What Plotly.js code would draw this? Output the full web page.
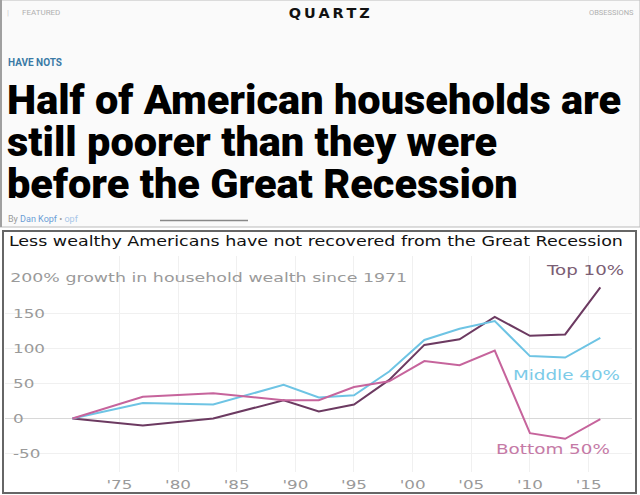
<!DOCTYPE html>
<html>
<head>
<meta charset="utf-8">
<script src="https://cdn.plot.ly/plotly-3.0.1.min.js"></script>
<style>
html,body{margin:0;padding:0;background:#fff;}
#chart{width:640px;height:495px;}
</style>
</head>
<body>
<div id="chart"></div>
<script>
// ---- data ----
const years = [1971, 1977, 1983, 1989, 1992, 1995, 1998, 2001, 2004, 2007, 2010, 2013, 2016];
const top10 = [0, -10, 0, 26, 10, 20, 55, 105, 113, 145, 118, 120, 187];
const middle40 = [0, 22, 20, 48, 30, 33, 67, 112, 128, 139, 89, 87, 115];
const bottom50 = [0, 31, 36, 26, 26, 45, 53, 82, 76, 97, -21, -29, -1];
const seriesNames = ["Top 10%", "Middle 40%", "Bottom 50%"];
const xTickVals = [1975, 1980, 1985, 1990, 1995, 2000, 2005, 2010, 2015];
const xTickText = ["'75", "'80", "'85", "'90", "'95", "'00", "'05", "'10", "'15"];
const yTickVals = [-50, 0, 50, 100, 150];
const yTickText = ["-50", "0", "50", "100", "150"];
const yAxisTitle = "200% growth in household wealth since 1971";
const headlineLines = ["Half of American households are", "still poorer than they were", "before the Great Recession"];
const chartTitle = "Less wealthy Americans have not recovered from the Great Recession";

// ---- helpers (pixel -> paper) ----
const W = 640, H = 495;
const px = x => x / W;
const py = y => 1 - y / H;

const colors = ["#6c3a61", "#6ec4e4", "#c6649c"];
const labelColors = ["#7b5e74", "#7ccbe8", "#c57aa6"];
const chartFont = "DejaVu Sans, sans-serif";
const tickGray = "#9a9a9a";
const HEAD_SIZE = 41.5, HEAD_PITCH = 42, HEAD_FIRST_BASELINE = 114;

const traces = [top10, middle40, bottom50].map((vals, i) => ({
  type: "scatter", mode: "lines", x: years, y: vals, name: seriesNames[i],
  line: {color: colors[i], width: 2}, hoverinfo: "skip"
}));

// annotations; "fit" = width in pixels the text should span (glyphs stretched)
const annList = [
  {text: "Q\u2009U\u2009A\u2009R\u2009T\u2009Z", x: px(329), y: py(13), font: {family: "DejaVu Sans, sans-serif", size: 14, color: "#111", weight: 700}, fit: 81},
  {text: "FEATURED", x: px(20), y: py(12), xanchor: "left", font: {family: "Roboto, sans-serif", size: 8, color: "#b0b0b0"}},
  {text: "OBSESSIONS", x: px(636), y: py(12), xanchor: "right", font: {family: "Roboto, sans-serif", size: 7.5, color: "#b0b0b0"}},
  {text: "|", x: px(8), y: py(12), font: {family: "Roboto, sans-serif", size: 8, color: "#ccc"}},
  {text: "HAVE NOTS", x: px(6), y: py(63), xanchor: "left", font: {family: "Roboto, sans-serif", size: 10, color: "#3b7aa6", weight: 700}},
  {text: headlineLines.join("<br>"), x: px(5), y: py(141), xanchor: "left", align: "left", headline: true,
   font: {family: "Roboto, sans-serif", size: HEAD_SIZE, color: "#000", weight: 900}},
  {text: "By <span style='color:#6b9ed6'>Dan Kopf</span> • <span style='color:#a8c6e8'>opf</span>", x: px(6), y: py(219), xanchor: "left",
   font: {family: "Roboto, sans-serif", size: 9, color: "#999"}},
  // chart title & y-axis caption
  {text: chartTitle, x: px(316), y: py(241), font: {family: chartFont, size: 14, color: "#111"}, fit: 614},
  {text: yAxisTitle, x: px(208.5), y: py(277), font: {family: chartFont, size: 12.5, color: tickGray}, fit: 397},
  // series labels
  {text: seriesNames[0], x: px(584.5), y: py(270), font: {family: chartFont, size: 13.5, color: labelColors[0]}, fit: 77},
  {text: seriesNames[1], x: px(566.5), y: py(375), font: {family: chartFont, size: 13.5, color: labelColors[1]}, fit: 107},
  {text: seriesNames[2], x: px(553), y: py(449), font: {family: chartFont, size: 13.5, color: labelColors[2]}, fit: 114}
];
const fits = annList.map(a => a.fit || 0);
const headlineIndex = annList.findIndex(a => a.headline);
const annotations = annList.map(a => {
  const o = Object.assign({xref: "paper", yref: "paper", showarrow: false, xanchor: "center", yanchor: "middle"}, a);
  delete o.fit; delete o.headline;
  return o;
});

const shapes = [
  // header background & borders
  {type: "rect", x0: px(0), x1: px(640), y0: py(0), y1: py(227), fillcolor: "#fafafa", line: {color: "#bbb", width: 1}, layer: "below"},
  {type: "rect", x0: px(0), x1: px(2), y0: py(0), y1: py(227), fillcolor: "#a0a0a0", line: {width: 0}, layer: "below"},
  {type: "line", x0: px(160), x1: px(248), y0: py(220.5), y1: py(220.5), line: {color: "#888", width: 1.5}},
  // chart box
  {type: "rect", x0: px(3), x1: px(636), y0: py(231), y1: py(493), fillcolor: "rgba(0,0,0,0)", line: {color: "#666", width: 2}, layer: "above"}
].map(s => Object.assign({xref: "paper", yref: "paper"}, s));

const layout = {
  width: W, height: H,
  margin: {l: 0, r: 0, t: 0, b: 0, pad: 0},
  paper_bgcolor: "#ffffff", plot_bgcolor: "rgba(0,0,0,0)",
  showlegend: false,
  xaxis: {
    domain: [px(5), px(632)], range: [1965.25, 2018.7],
    tickvals: xTickVals, ticktext: xTickText,
    showgrid: true, gridcolor: "#f0f0f0", gridwidth: 1,
    zeroline: false, showline: false, ticks: "",
    tickfont: {family: chartFont, size: 12.5, color: tickGray}, ticklabelstandoff: 3,
    fixedrange: true
  },
  yaxis: {
    domain: [py(472), py(256)], range: [-76.4, 231.9],
    tickvals: yTickVals, ticktext: yTickText,
    ticklabelposition: "inside", ticklabelstandoff: 5,
    showgrid: true, gridcolor: "#f0f0f0", gridwidth: 1,
    zeroline: true, zerolinecolor: "#d8d8d8", zerolinewidth: 1,
    showline: false, ticks: "",
    tickfont: {family: chartFont, size: 12.5, color: tickGray},
    fixedrange: true
  },
  annotations: annotations,
  shapes: shapes
};

function stretchText(el, target) {
  const L = el.getComputedTextLength();
  if (L > 0 && target > 0) {
    el.setAttribute("textLength", target);
    el.setAttribute("lengthAdjust", "spacingAndGlyphs");
  }
}

Plotly.newPlot("chart", traces, layout, {displayModeBar: false, staticPlot: true}).then(gd => {
  // the reference typeface is an extended one: widen glyphs of chart text
  gd.querySelectorAll(".xtick text, .ytick text").forEach(t => stretchText(t, t.getComputedTextLength() * 1.34));
  gd.querySelectorAll("g.annotation").forEach(g => {
    const i = +g.getAttribute("data-index");
    const t = g.querySelector("text.annotation-text");
    if (!t) return;
    if (fits[i]) stretchText(t, fits[i]);
    if (i === headlineIndex) {
      // tighter headline leading, as in the reference (line offsets are absolute per line)
      const lines = t.querySelectorAll("tspan.line");
      lines.forEach((ln, k) => ln.setAttribute("dy", (k * HEAD_PITCH) + "px"));
      const r = lines[0].getBoundingClientRect();
      const box = gd.getBoundingClientRect();
      const topNow = r.top - box.top;
      const wantTop = HEAD_FIRST_BASELINE - 0.93 * HEAD_SIZE;
      const prev = t.getAttribute("transform") || "";
      t.setAttribute("transform", prev + " translate(0," + (wantTop - topNow).toFixed(2) + ")");
    }
  });
});
</script>
</body>
</html>
